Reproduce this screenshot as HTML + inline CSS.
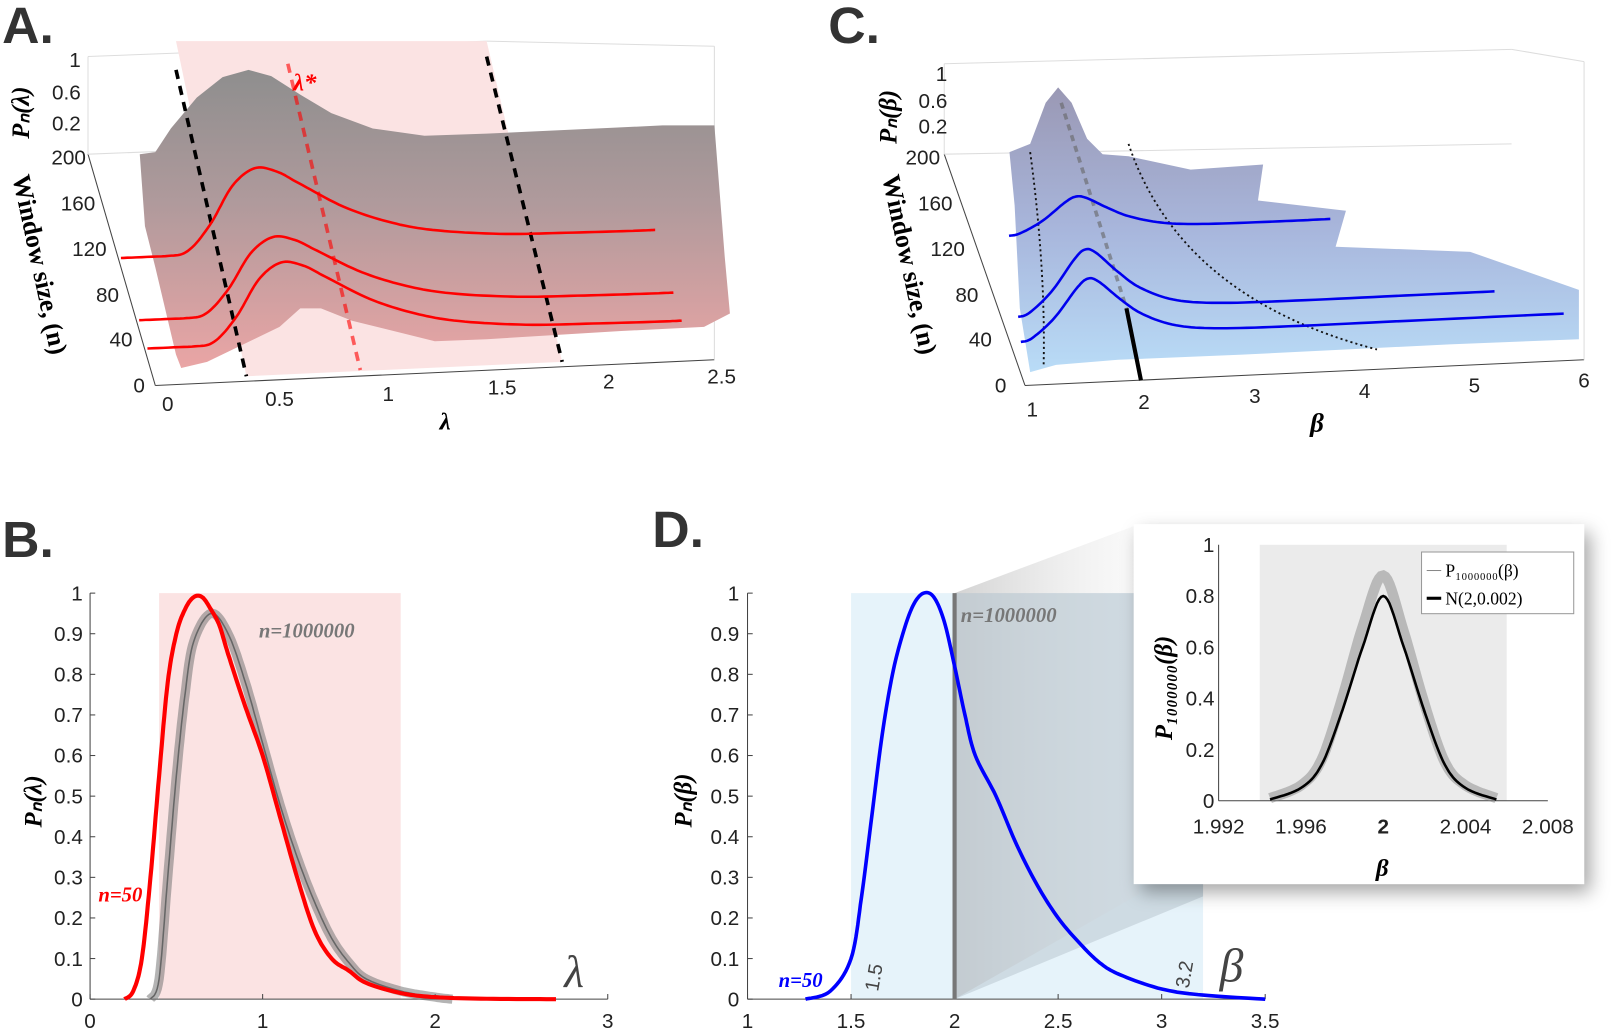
<!DOCTYPE html>
<html><head><meta charset="utf-8"><style>
html,body{margin:0;padding:0;background:#fff;}
svg{display:block;font-family:"Liberation Sans",sans-serif;}
</style></head><body>
<svg id="fig" width="1611" height="1030" viewBox="0 0 1556 1002" preserveAspectRatio="none" xmlns="http://www.w3.org/2000/svg">
<defs>
<linearGradient id="gA" x1="0" y1="0" x2="0" y2="1"><stop offset="0" stop-color="#8e8e8e"/><stop offset="0.45" stop-color="#b09a9c"/><stop offset="1" stop-color="#eaa5a5"/></linearGradient>
<linearGradient id="gC" x1="0" y1="0" x2="0" y2="1"><stop offset="0" stop-color="#9a98b4"/><stop offset="0.5" stop-color="#a8b6dc"/><stop offset="1" stop-color="#b9dcf7"/></linearGradient>
<linearGradient id="gZ" x1="0" y1="0" x2="1" y2="0"><stop offset="0" stop-color="#c8c8c8" stop-opacity="0.8"/><stop offset="1" stop-color="#eeeeee" stop-opacity="0.3"/></linearGradient>
<filter id="sh" x="-10%" y="-10%" width="125%" height="125%"><feDropShadow dx="6" dy="8" stdDeviation="9" flood-color="#000" flood-opacity="0.35"/></filter>
</defs>

<text x="2" y="42" font-size="50" font-weight="bold" fill="#333">A.</text>
<text x="800" y="42" font-size="50" font-weight="bold" fill="#333">C.</text>
<text x="2" y="542" font-size="50" font-weight="bold" fill="#333">B.</text>
<text x="630" y="532" font-size="50" font-weight="bold" fill="#333">D.</text>

<g id="panelA"></g>
<g id="panelC"></g>
<g id="panelB"></g>
<g id="panelD"></g>
</svg>
<script>
// ---------- Data ----------
const aLam = [0,0.2,0.3,0.4,0.5,0.6,0.7,0.8,1.0,1.2,1.4,1.7,2.0,2.3,2.4];
const aProf = [0,0,0.05,0.35,0.8,1,0.95,0.8,0.5,0.3,0.18,0.1,0.08,0.07,0.07];
const aN = [110,55,30];
const aPeak = [0.89,0.82,0.85];
const cBeta = [1.0,1.1,1.3,1.5,1.6,1.7,1.9,2.1,2.4,2.8,3.5,4.5,5.9];
const cProf = [0.05,0.1,0.4,0.85,1,0.95,0.65,0.4,0.2,0.12,0.1,0.1,0.1];
const cN = [128,55,33];
const cPeak = [0.45,0.8,0.75];
const cEnd = [3.9,5.3,5.9];
const bRedX = [0.2,0.25,0.3,0.35,0.4,0.45,0.5,0.55,0.6,0.65,0.7,0.75,0.8,0.9,1.0,1.1,1.2,1.3,1.4,1.5,1.6,1.8,2.0,2.3,2.7];
const bRedY = [0,0.02,0.1,0.3,0.55,0.78,0.9,0.96,0.99,0.99,0.96,0.92,0.85,0.72,0.6,0.45,0.3,0.17,0.1,0.07,0.04,0.015,0.005,0.001,0];
const bGrayX = [0.35,0.4,0.45,0.5,0.55,0.6,0.7,0.8,0.9,1.0,1.1,1.2,1.3,1.4,1.5,1.6,1.8,2.0,2.1];
const bGrayY = [0,0.05,0.3,0.55,0.75,0.88,0.95,0.9,0.78,0.63,0.48,0.35,0.24,0.15,0.09,0.05,0.02,0.005,0];
const bYTicks = [0,0.1,0.2,0.3,0.4,0.5,0.6,0.7,0.8,0.9,1];
const bXTicks = [0,1,2,3];
const dBlueX = [1.28,1.4,1.5,1.55,1.6,1.65,1.7,1.75,1.8,1.85,1.9,1.95,2.0,2.05,2.1,2.2,2.3,2.4,2.5,2.6,2.7,2.8,3.0,3.2,3.5];
const dBlueY = [0,0.02,0.1,0.25,0.45,0.65,0.8,0.9,0.97,1.0,0.99,0.93,0.82,0.7,0.6,0.5,0.38,0.28,0.2,0.14,0.09,0.06,0.025,0.01,0];
const dXTicks = [1,1.5,2,2.5,3,3.5];
const iX = [1.9945,1.996,1.997,1.998,1.999,2.0,2.001,2.002,2.003,2.004,2.0055];
const iNorm = [0.005,0.05,0.14,0.35,0.6,0.8,0.6,0.35,0.14,0.05,0.005];
const iGray = [0.01,0.06,0.16,0.4,0.68,0.88,0.66,0.38,0.15,0.06,0.01];
const iXTicks = [1.992,1.996,2,2.004,2.008];
const iYTicks = [0,0.2,0.4,0.6,0.8,1];

const NS="http://www.w3.org/2000/svg";
function mk(parent,tag,attrs,text){const e=document.createElementNS(NS,tag);for(const k in attrs)e.setAttribute(k,attrs[k]);if(text!==undefined)e.textContent=text;parent.appendChild(e);return e;}
function path(pts){return pts.map((p,i)=>(i?'L':'M')+p[0].toFixed(1)+','+p[1].toFixed(1)).join('');}
// Catmull-Rom spline through data points
function smooth(xs,ys,step){const n=xs.length,out=[];const P=i=>[xs[Math.max(0,Math.min(n-1,i))],ys[Math.max(0,Math.min(n-1,i))]];
 for(let i=0;i<n-1;i++){const p0=P(i-1),p1=P(i),p2=P(i+1),p3=P(i+2);
  for(let t=0;t<1;t+=step){const t2=t*t,t3=t2*t;const f=(a,b,c,d)=>0.5*((2*b)+(-a+c)*t+(2*a-5*b+4*c-d)*t2+(-a+3*b-3*c+d)*t3);
   out.push([f(p0[0],p1[0],p2[0],p3[0]),Math.max(0,f(p0[1],p1[1],p2[1],p3[1]))]);}}
 out.push([xs[n-1],ys[n-1]]);return out;}

// ---------- Panel A ----------
(function(){
const g=document.getElementById('panelA');
const X=(l,n)=>152+215*l-0.32*n, Y=(l,n,p)=>372-9*l-1.1*n-92*p;
[[85,55,85,150],[85,150,150,375],[150,375,690,350],[85,55,470,40],[470,40,690,45],[690,45,690,350],[85,150,470,135]].forEach(s=>{const l=mk(g,'line',{x1:s[0],y1:s[1],x2:s[2],y2:s[3],stroke:(s[0]===150||(s[1]===150&&s[3]===375))?'#444':'#ddd','stroke-width':1});});
const bg=mk(g,'polygon',{points:'170,40 470,40 543,352 238,366',fill:'#fbe3e3'});

const surf=mk(g,'path',{d:'M135,150 L150,148 L165,125 L190,95 L215,75 L240,68 L262,74 L290,92 L320,110 L360,125 L410,132 L470,130 L640,122 L690,122 L700,250 L705,305 L680,318 L600,322 L470,330 L420,332 L340,312 L310,300 L290,300 L270,318 L235,335 L200,352 L175,358 L170,345 L150,260 L140,220 Z',fill:'url(#gA)'});

[[170,68,238,366,'#000'],[470,55,543,352,'#000'],[278,62,348,360,'#f00']].forEach(d=>{const l=mk(g,'line',{x1:d[0],y1:d[1],x2:d[2],y2:d[3],stroke:d[4],'stroke-width':3.5,'stroke-dasharray':'9,7',opacity:d[4]==='#f00'?0.6:1});});
const ls=mk(g,'text',{x:283,y:88,fill:'#f00','font-size':24,'font-style':'italic','font-family':'Liberation Serif, serif','font-weight':'bold'},'λ*');

aN.forEach((n,k)=>{const pts=smooth(aLam,aProf,0.1).map(p=>[X(p[0],n),Y(p[0],n,p[1]*aPeak[k])]);
 const c=mk(g,'path',{d:path(pts),fill:'none',stroke:'#f00','stroke-width':2.5});
 });
[['1',58],['0.6',90],['0.2',120]].forEach(t=>{const e=mk(g,'text',{x:78,y:t[1]+7,'font-size':20,'text-anchor':'end',fill:'#222'},t[0]);});
[['200',83,153],['160',92,198],['120',103,242],['80',115,287],['40',128,330],['0',140,375]].forEach(t=>{const e=mk(g,'text',{x:t[1],y:t[2]+7,'font-size':20,'text-anchor':'end',fill:'#222'},t[0]);});
[['0',162,400],['0.5',270,395],['1',375,390],['1.5',485,384],['2',588,378],['2.5',697,373]].forEach(t=>{const e=mk(g,'text',{x:t[1],y:t[2],'font-size':20,'text-anchor':'middle',fill:'#222'},t[0]);});
let e=mk(g,'text',{x:430,y:418,'font-size':24,'font-style':'italic','font-family':'Liberation Serif, serif','font-weight':'bold','text-anchor':'middle'},'λ');
e=mk(g,'text',{transform:'translate(28,135) rotate(-90)','font-size':24,'font-style':'italic','font-weight':'bold','font-family':'Liberation Serif, serif'},'Pₙ(λ)');
e=mk(g,'text',{transform:'translate(12,172) rotate(78)','font-size':25,'font-weight':'bold','font-family':'Liberation Serif, serif'},'Window size, (n)');
})();

// ---------- Panel C ----------
(function(){
const g=document.getElementById('panelC');
const X=(b,n)=>990+107*(b-1)-0.12*n, Y=(b,n,p)=>372-5*(b-1)-1.1*n-82*p;
[[912,62,912,150],[912,150,990,375],[990,375,1530,350],[912,62,1460,48],[1460,48,1530,60],[1530,60,1530,350],[912,150,1460,140]].forEach(s=>{const l=mk(g,'line',{x1:s[0],y1:s[1],x2:s[2],y2:s[3],stroke:(s[0]===990||(s[1]===150&&s[3]===375))?'#444':'#ddd','stroke-width':1});});
const surf=mk(g,'path',{d:'M975,148 L995,140 L1010,100 L1022,85 L1035,100 L1050,135 L1065,150 L1090,152 L1150,165 L1220,160 L1215,195 L1300,205 L1290,240 L1420,245 L1525,282 L1525,330 L1400,335 L1200,345 L1080,350 L1020,355 L995,362 L985,300 L980,200 Z',fill:'url(#gC)'});

let l=mk(g,'path',{d:'M995,148 Q1010,260 1008,355',fill:'none',stroke:'#111','stroke-width':1.8,'stroke-dasharray':'2,3'});
l=mk(g,'path',{d:'M1090,140 Q1140,290 1330,340',fill:'none',stroke:'#111','stroke-width':1.8,'stroke-dasharray':'2,3'});
l=mk(g,'line',{x1:1025,y1:100,x2:1088,y2:300,stroke:'#666','stroke-width':3.5,'stroke-dasharray':'6,5',opacity:0.6});
l=mk(g,'line',{x1:1088,y1:300,x2:1102,y2:370,stroke:'#000','stroke-width':4});
cN.forEach((n,k)=>{const xs=[],ys=[];cBeta.forEach((b,i)=>{if(b<=cEnd[k]){xs.push(b);ys.push(cProf[i]);}});if(xs[xs.length-1]<cEnd[k]){xs.push(cEnd[k]);ys.push(0.1);}
 const pts=smooth(xs,ys,0.1).map(p=>[X(p[0],n),Y(p[0],n,p[1]*cPeak[k])]);
 const c=mk(g,'path',{d:path(pts),fill:'none',stroke:'#0000ee','stroke-width':2.5});
 });
[['1',72],['0.6',98],['0.2',123]].forEach(t=>{const e=mk(g,'text',{x:915,y:t[1]+7,'font-size':20,'text-anchor':'end',fill:'#222'},t[0]);});
[['200',908,153],['160',920,198],['120',932,242],['80',945,287],['40',958,330],['0',972,375]].forEach(t=>{const e=mk(g,'text',{x:t[1],y:t[2]+7,'font-size':20,'text-anchor':'end',fill:'#222'},t[0]);});
[['1',997,405],['2',1105,398],['3',1212,392],['4',1318,387],['5',1424,382],['6',1530,377]].forEach(t=>{const e=mk(g,'text',{x:t[1],y:t[2],'font-size':20,'text-anchor':'middle',fill:'#222'},t[0]);});
let e=mk(g,'text',{x:1272,y:420,'font-size':26,'font-style':'italic','font-family':'Liberation Serif, serif','font-weight':'bold','text-anchor':'middle'},'β');
e=mk(g,'text',{transform:'translate(866,140) rotate(-90)','font-size':24,'font-style':'italic','font-weight':'bold','font-family':'Liberation Serif, serif'},'Pₙ(β)');
e=mk(g,'text',{transform:'translate(852,172) rotate(78)','font-size':25,'font-weight':'bold','font-family':'Liberation Serif, serif'},'Window size, (n)');
})();

// ---------- Panel B ----------
(function(){
const g=document.getElementById('panelB');
const x=v=>87+v*(500/3), y=v=>972-v*395;
let r=mk(g,'rect',{x:x(0.4),y:y(1),width:x(1.8)-x(0.4),height:y(0)-y(1),fill:'#fbe3e3'});
let a=mk(g,'line',{x1:87,y1:y(0),x2:587,y2:y(0),stroke:'#444'});
a=mk(g,'line',{x1:87,y1:y(0),x2:87,y2:y(1),stroke:'#444'});
bYTicks.forEach(t=>{const k=mk(g,'line',{x1:87,y1:y(t),x2:92,y2:y(t),stroke:'#444'});
 const e=mk(g,'text',{x:80,y:y(t)+7,'font-size':20,'text-anchor':'end',fill:'#222'},String(t));});
bXTicks.forEach(t=>{const k=mk(g,'line',{x1:x(t),y1:y(0),x2:x(t),y2:y(0)-5,stroke:'#444'});
 const e=mk(g,'text',{x:x(t),y:1000,'font-size':20,'text-anchor':'middle',fill:'#222'},String(t));});
const gp=path(smooth(bGrayX,bGrayY,0.1).map(q=>[x(q[0]),y(q[1])]));
let p=mk(g,'path',{d:gp,fill:'none',stroke:'#777','stroke-width':9,opacity:0.55});
p=mk(g,'path',{d:gp,fill:'none',stroke:'#666','stroke-width':1.5});
p=mk(g,'path',{d:path(smooth(bRedX,bRedY,0.1).map(q=>[x(q[0]),y(q[1])])),fill:'none',stroke:'#f00','stroke-width':4});
let e=mk(g,'text',{x:95,y:877,'font-size':20,'font-style':'italic','font-weight':'bold','font-family':'Liberation Serif, serif',fill:'#f00'},'n=50');
e=mk(g,'text',{x:250,y:620,'font-size':20,'font-style':'italic','font-weight':'bold','font-family':'Liberation Serif, serif',fill:'#777'},'n=1000000');
e=mk(g,'text',{x:545,y:960,'font-size':44,'font-style':'italic','font-family':'Liberation Serif, serif',fill:'#444'},'λ');
e=mk(g,'text',{transform:'translate(40,805) rotate(-90)','font-size':24,'font-style':'italic','font-weight':'bold','font-family':'Liberation Serif, serif'},'Pₙ(λ)');
})();

// ---------- Panel D ----------
(function(){
const g=document.getElementById('panelD');
const x=v=>722+(v-1)*200, y=v=>972-v*395;
let r=mk(g,'rect',{x:x(1.5),y:y(1),width:x(3.2)-x(1.5),height:y(0)-y(1),fill:'#e6f3fa'});
r=mk(g,'polygon',{points:`${x(2)},${y(1)} 1100,510 1100,870 ${x(2)},${y(0)}`,fill:'url(#gZ)'});
r=mk(g,'polygon',{points:`${x(2)},${y(1)} ${x(3.2)},${y(1)} ${x(3.2)},${y(0)-100} ${x(2)},${y(0)}`,fill:'#b9c6cf',opacity:0.55});
let a=mk(g,'line',{x1:722,y1:y(0),x2:1222,y2:y(0),stroke:'#444'});
a=mk(g,'line',{x1:722,y1:y(0),x2:722,y2:y(1),stroke:'#444'});
bYTicks.forEach(t=>{const k=mk(g,'line',{x1:722,y1:y(t),x2:727,y2:y(t),stroke:'#444'});
 const e=mk(g,'text',{x:714,y:y(t)+7,'font-size':20,'text-anchor':'end',fill:'#222'},String(t));});
dXTicks.forEach(t=>{const k=mk(g,'line',{x1:x(t),y1:y(0),x2:x(t),y2:y(0)-5,stroke:'#444'});
 const e=mk(g,'text',{x:x(t),y:1000,'font-size':20,'text-anchor':'middle',fill:'#222'},String(t));});
let v=mk(g,'line',{x1:x(2),y1:y(1),x2:x(2),y2:y(0),stroke:'#777','stroke-width':4});
let p=mk(g,'path',{d:path(smooth(dBlueX,dBlueY,0.1).map(q=>[x(q[0]),y(q[1])])),fill:'none',stroke:'#0000ff','stroke-width':3.5});
let e=mk(g,'text',{x:752,y:960,'font-size':20,'font-style':'italic','font-weight':'bold','font-family':'Liberation Serif, serif',fill:'#00f'},'n=50');
e=mk(g,'text',{x:928,y:605,'font-size':20,'font-style':'italic','font-weight':'bold','font-family':'Liberation Serif, serif',fill:'#777'},'n=1000000');
e=mk(g,'text',{transform:'translate(848,965) rotate(-80)','font-size':19,fill:'#444'},'1.5');
e=mk(g,'text',{transform:'translate(1148,962) rotate(-80)','font-size':19,fill:'#444'},'3.2');
e=mk(g,'text',{x:1178,y:955,'font-size':46,'font-style':'italic','font-family':'Liberation Serif, serif',fill:'#444'},'β');
e=mk(g,'text',{transform:'translate(668,805) rotate(-90)','font-size':24,'font-style':'italic','font-weight':'bold','font-family':'Liberation Serif, serif'},'Pₙ(β)');
const ig=mk(g,'g',{});
let bx=mk(ig,'rect',{x:1095,y:510,width:435,height:350,fill:'#fff',filter:'url(#sh)'});
const ix=v=>1177+(v-1.992)*(318/0.016), iy=v=>779-v*249;
r=mk(ig,'rect',{x:ix(1.994),y:iy(1),width:ix(2.006)-ix(1.994),height:iy(0)-iy(1),fill:'#ebebeb'});
a=mk(ig,'line',{x1:ix(1.992),y1:iy(0),x2:ix(2.008),y2:iy(0),stroke:'#444'});
a=mk(ig,'line',{x1:ix(1.992),y1:iy(0),x2:ix(1.992),y2:iy(1),stroke:'#444'});
iYTicks.forEach(t=>{const e=mk(ig,'text',{x:1173,y:iy(t)+7,'font-size':20,'text-anchor':'end',fill:'#222'},String(t));});
iXTicks.forEach(t=>{const e=mk(ig,'text',{x:ix(t),y:811,'font-size':20,'text-anchor':'middle',fill:'#222','font-weight':t===2?'bold':'normal'},String(t));});
p=mk(ig,'path',{d:path(smooth(iX,iGray,0.1).map(q=>[ix(q[0]),iy(q[1])])),fill:'none',stroke:'#888','stroke-width':10,opacity:0.5});
p=mk(ig,'path',{d:path(smooth(iX,iNorm,0.1).map(q=>[ix(q[0]),iy(q[1])])),fill:'none',stroke:'#000','stroke-width':2.5});
const lg=mk(ig,'g',{});
mk(lg,'rect',{x:1373,y:537,width:147,height:60,fill:'#fff',stroke:'#999'});
mk(lg,'line',{x1:1378,y1:555,x2:1392,y2:555,stroke:'#888','stroke-width':1});
mk(lg,'text',{x:1396,y:561,'font-size':17,'font-family':'Liberation Serif, serif'},'P₁₀₀₀₀₀₀(β)');
mk(lg,'line',{x1:1378,y1:582,x2:1392,y2:582,stroke:'#000','stroke-width':3});
mk(lg,'text',{x:1396,y:588,'font-size':17,'font-family':'Liberation Serif, serif'},'N(2,0.002)');
e=mk(ig,'text',{x:1335,y:852,'font-size':24,'font-style':'italic','font-weight':'bold','font-family':'Liberation Serif, serif','text-anchor':'middle'},'β');
e=mk(ig,'text',{transform:'translate(1132,720) rotate(-90)','font-size':24,'font-style':'italic','font-weight':'bold','font-family':'Liberation Serif, serif'},'P₁₀₀₀₀₀₀(β)');
})();
</script>
</body></html>
